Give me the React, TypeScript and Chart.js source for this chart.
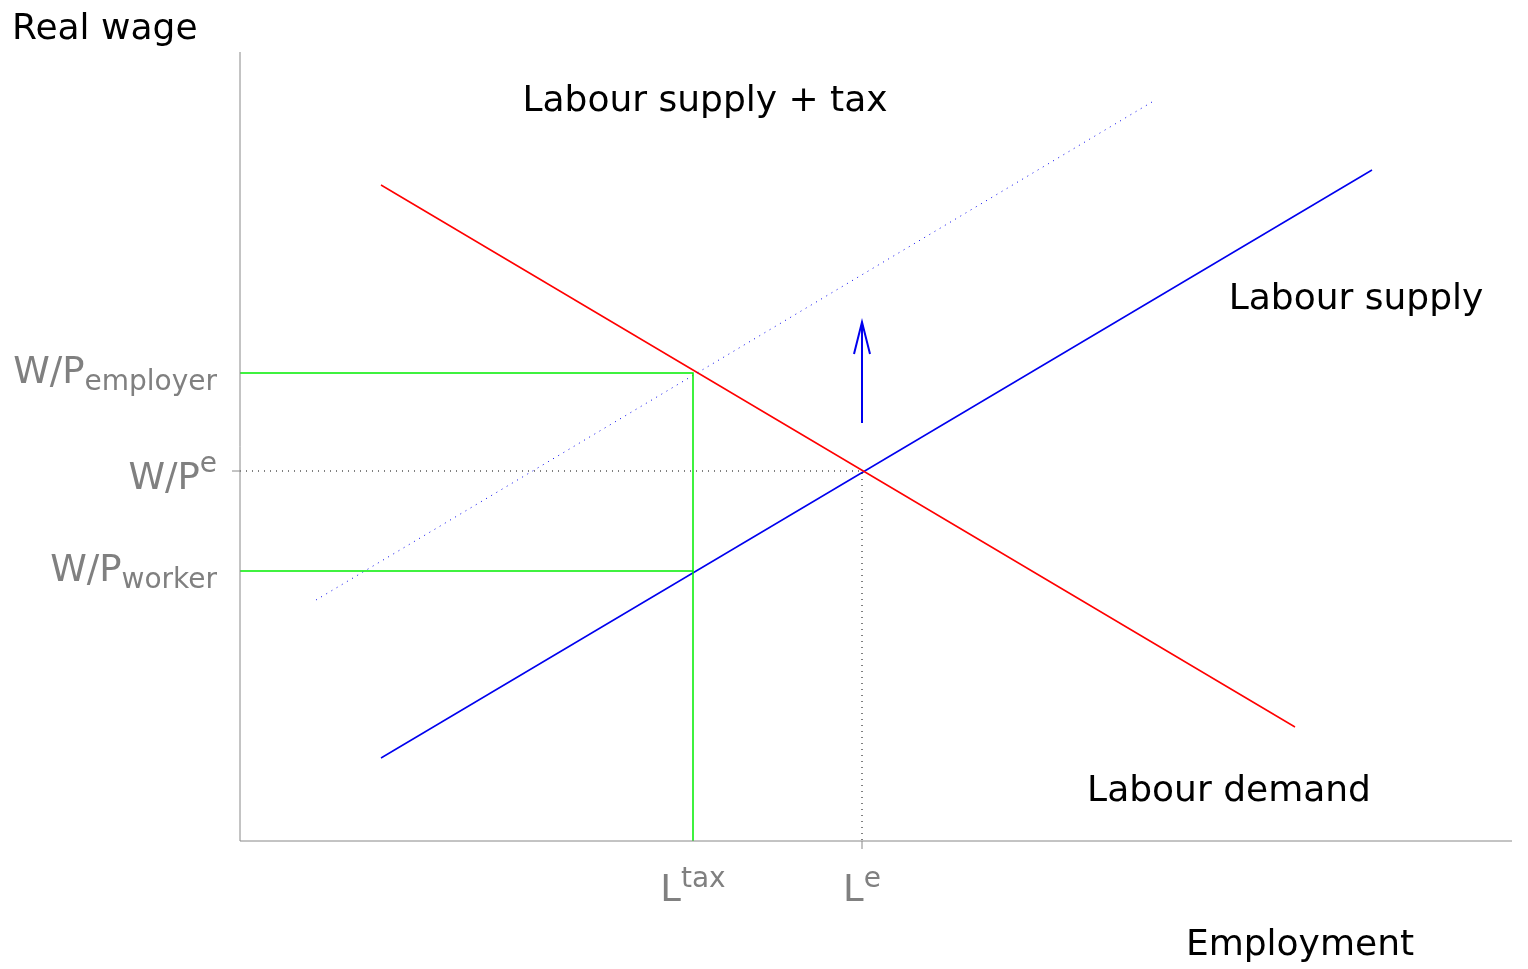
import { useEffect, useRef } from "react";
import Chart from "chart.js/auto";

// Plot units: x = employment (0..1272), y = real wage (0..789)
const demand = [{ x: 141, y: 656 }, { x: 1055, y: 114 }];
const supply = [{ x: 141, y: 83 }, { x: 1132, y: 671 }];
const supplyTax = [{ x: 76, y: 241 }, { x: 912, y: 739 }];
const L_TAX = 453;
const L_E = 622;
const W_EMPLOYER = 468;
const W_E = 370;
const W_WORKER = 270;
const arrowFrom = 418;
const arrowTo = 519;

const font = "'DejaVu Sans', sans-serif";

export default function App() {
	const canvasRef = useRef<HTMLCanvasElement>(null);

	useEffect(() => {
		document.body.style.margin = "0";
		const ctx = canvasRef.current?.getContext("2d");
		if (!ctx) return;

		const labels = {
			id: "labels",
			afterDatasetsDraw(chart: any) {
				const c = chart.ctx;
				const xs = chart.scales.x;
				const ys = chart.scales.y;
				const px = (v: number) => xs.getPixelForValue(v);
				const py = (v: number) => ys.getPixelForValue(v);
				c.save();
				// axes
				c.strokeStyle = "#888";
				c.lineWidth = 1;
				c.beginPath();
				c.moveTo(px(0), py(789));
				c.lineTo(px(0), py(0));
				c.lineTo(px(1272), py(0));
				c.moveTo(px(0) - 8, py(W_E));
				c.lineTo(px(0), py(W_E));
				c.moveTo(px(L_E), py(0));
				c.lineTo(px(L_E), py(0) + 8);
				c.stroke();
				// arrow head
				c.strokeStyle = "#0000ee";
				c.lineWidth = 2;
				c.beginPath();
				c.moveTo(px(L_E) - 8, py(arrowTo) + 32);
				c.lineTo(px(L_E), py(arrowTo));
				c.lineTo(px(L_E) + 8, py(arrowTo) + 32);
				c.stroke();

				c.textBaseline = "middle";
				c.fillStyle = "#000";
				c.font = `36px ${font}`;
				c.textAlign = "left";
				c.fillText("Real wage", 12, 30);
				c.textAlign = "center";
				c.fillText("Labour supply + tax", 705, 102);
				c.fillText("Labour supply", 1356, 300);
				c.fillText("Labour demand", 1229, 792);
				c.fillText("Employment", 1300, 946);

				c.fillStyle = "#808080";
				const leftLabel = (main: string, small: string, y: number, dy: number) => {
					c.font = `28px ${font}`;
					c.textAlign = "right";
					const w = c.measureText(small).width;
					c.fillText(small, 217, y + dy);
					c.font = `37px ${font}`;
					c.fillText(main, 217 - w, y);
				};
				leftLabel("W/P", "employer", py(W_EMPLOYER), 10);
				leftLabel("W/P", "e", py(W_E) + 8, -14);
				leftLabel("W/P", "worker", py(W_WORKER), 10);

				const bottomLabel = (main: string, small: string, x: number) => {
					c.font = `37px ${font}`;
					const mw = c.measureText(main).width;
					c.font = `28px ${font}`;
					const sw = c.measureText(small).width;
					const start = x - (mw + sw) / 2;
					c.textAlign = "left";
					c.fillText(small, start + mw, 880);
					c.font = `37px ${font}`;
					c.fillText(main, start, 891);
				};
				bottomLabel("L", "tax", px(L_TAX));
				bottomLabel("L", "e", px(L_E));
				c.restore();
			},
		};

		const line = (data: any[], color: string, extra: any = {}) => ({
			data,
			borderColor: color,
			borderWidth: 1.5,
			pointRadius: 0,
			fill: false,
			...extra,
		});

		const chart = new Chart(ctx, {
			type: "line",
			data: {
				datasets: [
					line([{ x: 0, y: W_EMPLOYER }, { x: L_TAX, y: W_EMPLOYER }, { x: L_TAX, y: 0 }], "#00ee00"),
					line([{ x: 0, y: W_WORKER }, { x: L_TAX, y: W_WORKER }], "#00ee00"),
					line([{ x: 0, y: W_E }, { x: L_E, y: W_E }, { x: L_E, y: 0 }], "#000", { borderWidth: 1, borderDash: [1, 5] }),
					line(supplyTax, "#0000ee", { borderWidth: 1, borderDash: [1, 5] }),
					line(demand, "#ff0000"),
					line(supply, "#0000ee"),
					line([{ x: L_E, y: arrowFrom }, { x: L_E, y: arrowTo }], "#0000ee", { borderWidth: 2 }),
				],
			},
			options: {
				responsive: false,
				animation: false,
				parsing: false as any,
				layout: { padding: { left: 240, right: 16, top: 52, bottom: 128 } },
				plugins: { legend: { display: false }, tooltip: { enabled: false } },
				scales: {
					x: { type: "linear", display: false, min: 0, max: 1272 },
					y: { type: "linear", display: false, min: 0, max: 789 },
				},
			},
			plugins: [labels],
		});
		return () => chart.destroy();
	}, []);

	return <canvas ref={canvasRef} width={1528} height={969} style={{ display: "block", background: "#fff" }} />;
}
